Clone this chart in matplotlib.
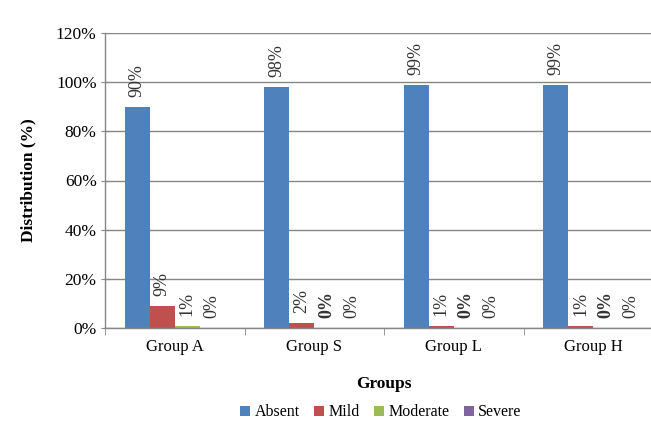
import matplotlib
matplotlib.use("Agg")
import matplotlib.pyplot as plt
import numpy as np
from matplotlib.ticker import FuncFormatter

groups = ["Group A", "Group S", "Group L", "Group H"]
series_names = ["Absent", "Mild", "Moderate", "Severe"]
absent = [90, 98, 99, 99]
mild = [9, 2, 1, 1]
moderate = [1, 0, 0, 0]
severe = [0, 0, 0, 0]
colors = ["#4F81BD", "#C0504D", "#9BBB59", "#8064A2"]

plt.rcParams['font.family'] = ['Liberation Serif', 'DejaVu Serif']

fig = plt.figure(figsize=(6.51, 4.32), dpi=100)
ax = fig.add_axes([105/651, 1 - 328/432, 558/651, 295/432])

x = np.arange(len(groups))
w = 0.179
data = [absent, mild, moderate, severe]
for i, (vals, c, name) in enumerate(zip(data, colors, series_names)):
    pos = x + (i - 1.5) * w
    ax.bar(pos, vals, width=w, color=c, label=name, zorder=3)
    for j, (p, v) in enumerate(zip(pos, vals)):
        bold = (i == 2 and v == 0)
        ax.annotate(f"{v}%", (p, v), xytext=(0, 7), textcoords="offset points",
                    rotation=90, ha="center", va="bottom", fontsize=13,
                    fontweight="bold" if bold else "normal", color="#333333")

ax.set_xlim(-0.5, len(groups) - 0.5)
ax.set_ylim(0, 120)
ax.set_yticks(np.arange(0, 121, 20))
ax.yaxis.set_major_formatter(FuncFormatter(lambda v, p: f"{int(v)}%"))
ax.set_xticks(x)
ax.set_xticklabels(groups)
ax.set_xticks(np.arange(-0.5, len(groups), 1), minor=True)
ax.tick_params(axis='x', which='major', length=0, pad=8, labelsize=12)
ax.tick_params(axis='x', which='minor', length=5, color="#868686", direction='out')
ax.tick_params(axis='y', length=6, color="#868686", labelsize=12.5, pad=3, direction='inout')
ax.grid(axis='y', color="#868686", linewidth=1, zorder=0)
for s in ["top", "right"]:
    ax.spines[s].set_visible(False)
for s in ["left", "bottom"]:
    ax.spines[s].set_color("#868686")
    ax.spines[s].set_linewidth(1)
ax.spines["bottom"].set_zorder(4)

ax.set_ylabel("Distribution (%)", fontsize=12.5, fontweight="bold", labelpad=14)
ax.set_xlabel("Groups", fontsize=12.5, fontweight="bold", labelpad=15)

ax.legend(loc="upper center", bbox_to_anchor=(0.5 - 3/558, -0.21), ncol=4, frameon=False,
          fontsize=11.5, handlelength=0.6, handleheight=0.6, handletextpad=0.3,
          columnspacing=0.9)

fig.savefig("out.png", dpi=100)
